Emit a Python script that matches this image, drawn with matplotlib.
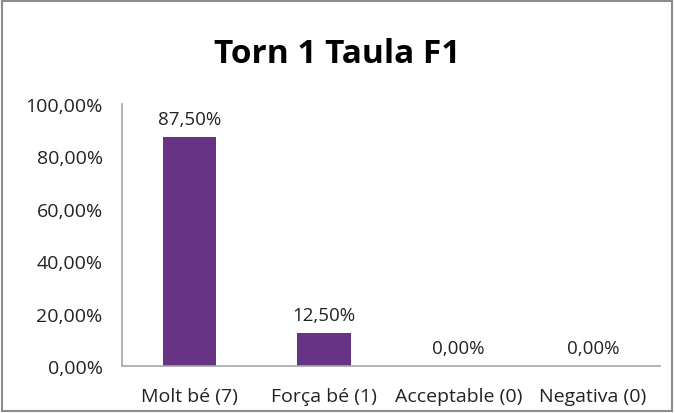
import matplotlib
matplotlib.use("Agg")
import matplotlib.pyplot as plt
from matplotlib.patches import Rectangle
from matplotlib.ticker import FuncFormatter

categories = ["Molt bé (7)", "Força bé (1)", "Acceptable (0)", "Negativa (0)"]
values = [87.5, 12.5, 0.0, 0.0]
yticks = [0, 20, 40, 60, 80, 100]
title = "Torn 1 Taula F1"


def pct(v, pos=None):
    return "{:.2f}%".format(v).replace(".", ",")


plt.rcParams["font.family"] = ["Open Sans", "DejaVu Sans"]

fig = plt.figure(figsize=(6.75, 4.14), dpi=100)
ax = fig.add_axes([0.181, 0.1135, 0.797, 0.633])

x = range(len(categories))
bars = ax.bar(x, values, width=0.4, color="#663385")
for xi, v in zip(x, values):
    ax.text(xi, v + 3.5, pct(v), ha="center", va="bottom", fontsize=13.5, color="#222222")

ax.set_xlim(-0.5, len(categories) - 0.5)
ax.set_ylim(0, 100)
ax.set_yticks(yticks)
ax.yaxis.set_major_formatter(FuncFormatter(pct))
ax.set_xticks(list(x))
ax.set_xticklabels(categories)
ax.tick_params(axis="both", length=0, labelsize=14, colors="#222222")
ax.tick_params(axis="x", pad=15)
ax.tick_params(axis="y", pad=14)

for s in ["top", "right"]:
    ax.spines[s].set_visible(False)
for s in ["left", "bottom"]:
    ax.spines[s].set_color("#a6a6a6")
    ax.spines[s].set_linewidth(1.2)

fig.text(0.5, 0.868, title, ha="center", va="center", fontsize=24, fontweight="bold")

# outer chart frame
fig.patches.append(Rectangle((0.003, 0.004), 0.992, 0.992, transform=fig.transFigure,
                             fill=False, edgecolor="#8c8c8c", linewidth=1.5))

fig.savefig("out.png", dpi=100)
